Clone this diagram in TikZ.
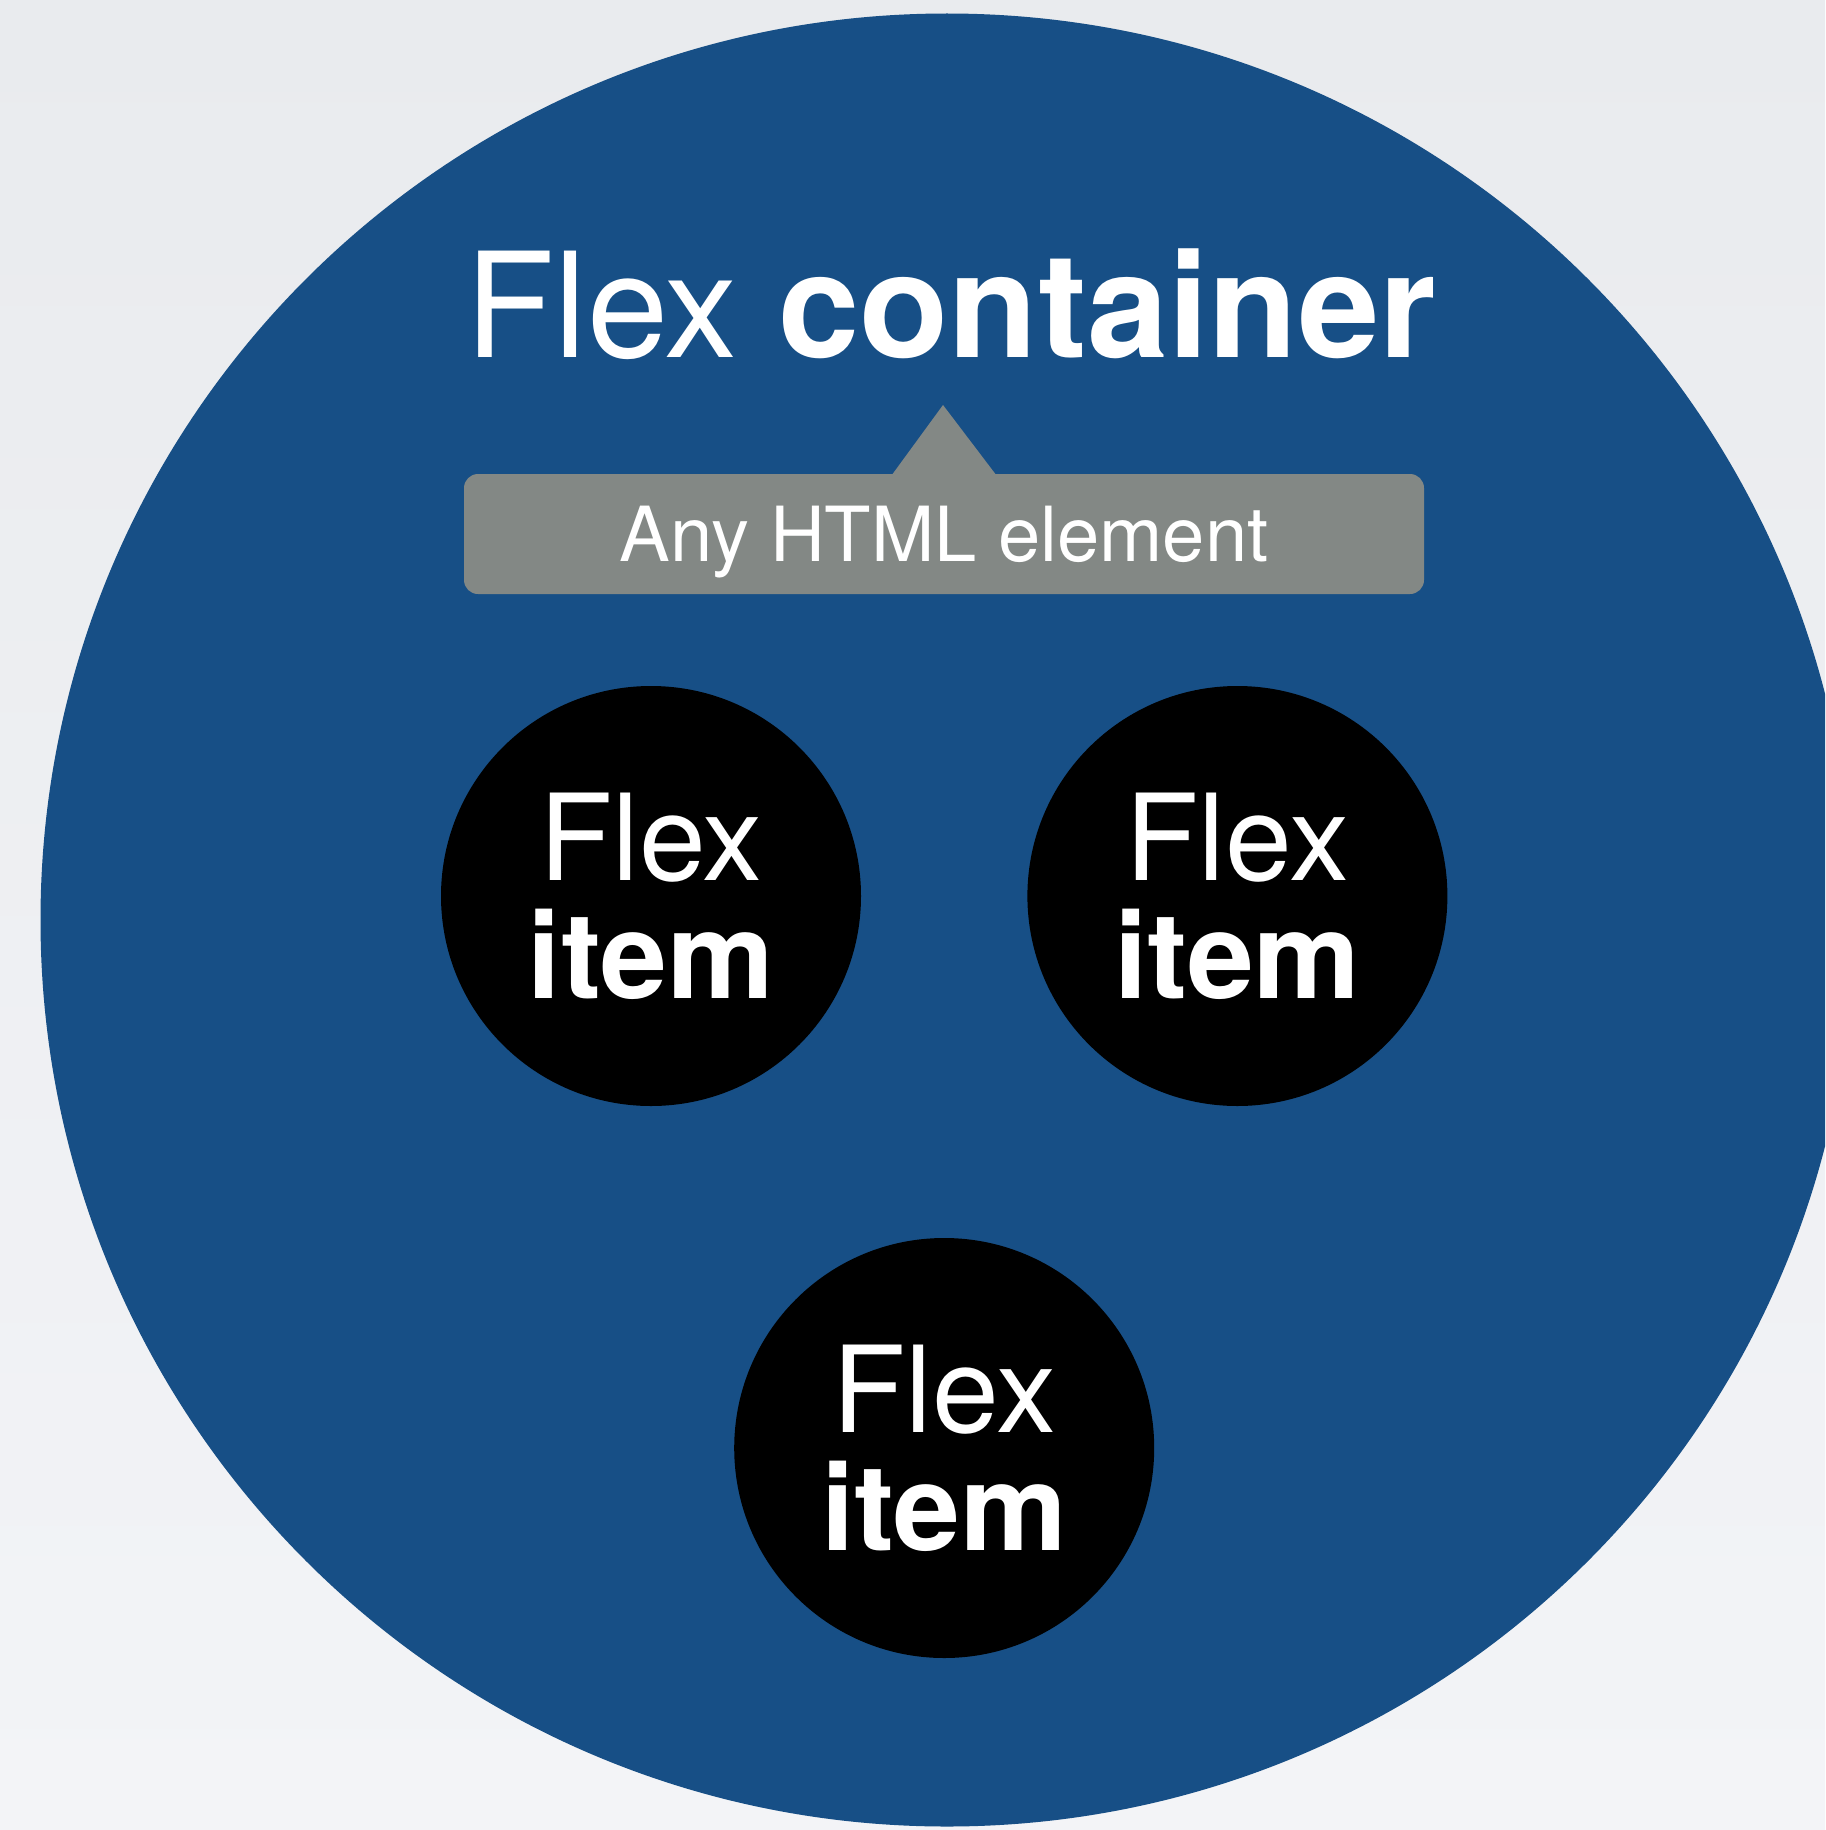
\documentclass[tikz,border=0pt]{standalone}
\usepackage{fontspec}
\setmainfont{TeX Gyre Heros}
\usetikzlibrary{positioning,calc}
\definecolor{flexblue}{HTML}{174F86}
\definecolor{taggray}{HTML}{838885}
\definecolor{bgtop}{HTML}{E9EBEE}
\definecolor{bgbot}{HTML}{F3F4F7}

\begin{document}
\begin{tikzpicture}[
  x=1pt, y=-1pt,
  item/.style={circle, fill=black, text=white, minimum size=420pt, inner sep=0pt,
               align=center, font=\fontsize{120}{118}\selectfont},
  tag/.style={fill=taggray, rounded corners=14pt, minimum width=960pt,
              minimum height=120pt, inner sep=0pt, text=white,
              font=\fontsize{76}{76}\selectfont, text height=55pt, text depth=0pt}
]
  \useasboundingbox (0,0) rectangle (1825,1830);
  \clip (0,0) rectangle (1825,1830);
  \shade[top color=bgtop, bottom color=bgbot] (0,0) rectangle (1825,1830);

  % container
  \node[circle, fill=flexblue, minimum size=1813pt, inner sep=0pt] (C) at (947,920) {};
  \node[anchor=base, text=white, font=\fontsize{146}{146}\selectfont] (T) at (951,357)
    {Flex \textbf{container}};

  % callout
  \node[tag] (H) at (944,534) {Any HTML element};
  \coordinate (tip) at (943,405);
  \fill[taggray] ([xshift=-52pt,yshift=-1pt]H.north) -- (tip)
    -- ([xshift=52pt,yshift=-1pt]H.north) -- cycle;

  % items
  \node[item] (I1) at (651,896) {Flex\\\textbf{item}};
  \node[item, right=166pt of I1] (I2) {Flex\\\textbf{item}};
  \node[item] (I3) at ($(I1)!0.5!(I2)+(0,552)$) {Flex\\\textbf{item}};
\end{tikzpicture}
\end{document}
